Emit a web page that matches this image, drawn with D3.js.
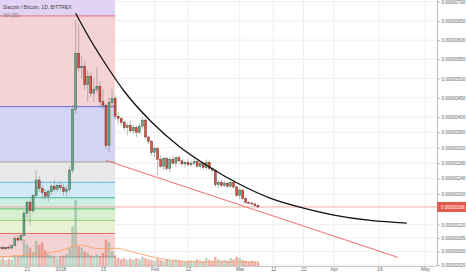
<!DOCTYPE html>
<html>
<head>
<meta charset="utf-8">
<script src="https://cdnjs.cloudflare.com/ajax/libs/d3/7.8.5/d3.min.js"></script>
<style>
body { margin: 0; background: #fff; }
svg { display: block; font-family: "Liberation Sans", Arial, sans-serif; }
</style>
</head>
<body>
<script>
// daily candles, SC/BTC in satoshi, from 2017-12-12
var firstDay = '2017-12-12';
var opens  = [58,60,57,61,59,66,84,80,92,150,178,156,196,236,214,204,194,206,220,212,222,216,206,212,262,420,566,528,532,484,506,462,472,480,440,430,326,438,448,402,396,386,372,378,364,372,360,376,392,348,336,308,318,290,272,292,266,290,280,294,286,278,282,276,280,284,272,280,268,282,266,262,224,230,222,228,220,230,218,196,210,188,178,176,174,170];
var highs  = [64,66,63,66,68,90,92,96,156,182,186,200,262,246,222,212,212,226,236,228,232,226,222,272,432,652,640,560,546,522,516,500,530,492,472,434,452,472,456,412,400,392,384,390,380,378,384,400,396,352,340,322,322,300,296,296,296,300,296,300,290,286,290,286,296,290,282,284,290,288,270,264,236,236,234,232,234,236,222,214,212,190,182,180,176,172];
var lows   = [54,55,54,56,57,63,76,77,88,138,118,150,190,205,186,186,180,198,204,204,208,196,194,204,254,408,518,498,470,440,452,440,462,430,420,318,308,426,394,380,378,364,352,360,356,348,356,370,344,330,300,296,248,268,262,262,256,274,270,280,272,268,272,270,274,268,266,264,262,262,256,218,216,218,218,216,216,214,192,186,184,174,172,170,166,162];
var closes = [60,57,61,59,66,84,80,92,150,178,156,196,236,214,204,194,206,220,212,222,216,206,212,262,420,566,528,532,484,506,462,472,480,440,430,326,438,448,402,396,386,372,378,364,372,360,376,392,348,336,308,318,290,272,292,266,290,280,294,286,278,282,276,280,284,272,280,268,282,266,262,224,230,222,228,220,230,218,196,210,188,178,176,174,170,166];
var volumes = [10,12,9,11,10,16,13,15,40,33,28,22,38,32,36,24,18,16,14,12,14,16,18,28,60,100,30,28,22,20,16,14,18,15,20,40,36,22,16,12,10,12,9,11,10,12,10,14,12,10,9,8,12,9,8,10,9,8,10,9,8,7,8,9,8,10,8,7,12,9,8,14,10,8,9,8,12,10,14,12,9,8,7,8,7,6];

// Vol (20) moving average, read at a few days
var volMaDays = ['2017-12-12','2018-01-01','2018-01-07','2018-01-14','2018-01-19','2018-01-25','2018-01-31','2018-02-06','2018-02-12','2018-02-20','2018-02-28','2018-03-07'];
var volMaValues = [14,23,32,26,27,21,14,9,6,6,6,6];

var priceTicks = [15,50,85,120,200,240,280,320,360,400,450,500,550,600,650,700];
var lastPrice = 166;

var dateTicks = ['2017-12-21','2018-01-01','2018-01-15','2018-02-01','2018-02-12','2018-03-01','2018-03-12','2018-03-22','2018-04-01','2018-04-16','2018-05-01'];
var dateLabels = ['21','2018','15','Feb','12','Mar','12','22','Apr','16','May'];

// fibonacci retracement levels (price), bottom to top
var fibLevels = [36,97,131,161,190,230,283,427,663,900];
var fibStart = '2017-12-01';
var fibEnd = '2018-01-19';
var fibLineColors = ['#9a9a9a','#e35d5d','#8dc96b','#58b85c','#2fb38f','#5aaee0','#9a9a9a','#5757e0','#e35d6a','#a05ad0'];
var fibFillColors = [null,'#f6d3d3','#e8f3d6','#d8efd2','#cdeee1','#d3eaf6','#e8e8e8','#d3d3f5','#f5d2d4','#e2d2f3'];

// hand drawn curve and trend line
var curveDays = ['2018-01-06','2018-01-11','2018-01-16','2018-01-22','2018-01-31','2018-02-09','2018-02-19','2018-03-01','2018-03-11','2018-03-22','2018-04-01','2018-04-13','2018-04-25'];
var curvePrices = [670,599,536,467,387,324,270,225,189,163,145,131,124];
var trendDays = ['2018-01-16','2018-04-22'];
var trendPrices = [287,35];

var W = 466, H = 275;
var plotRight = 437, plotBottom = 266;
var upColor = '#6ba583', downColor = '#d75442';

var parseDay = d3.utcParse('%Y-%m-%d');

function renderCanvas() {
	return d3.select('body')
		.append('svg')
		.attr('width', W)
		.attr('height', H);
}

function renderChart() {
	var svg = renderCanvas();

	var x = d3.scaleUtc()
		.domain([parseDay('2017-12-21'), parseDay('2018-05-01')])
		.range([27, 425]);
	var y = d3.scaleLinear()
		.domain([700, 15])
		.range([1.7, 265]);
	var yVol = d3.scaleLinear()
		.domain([0, 100])
		.range([plotBottom, 200]);

	var start = parseDay(firstDay);
	var candles = closes.map(function(c, i) {
		return {
			date: d3.utcDay.offset(start, i),
			o: opens[i], h: highs[i], l: lows[i], c: c, v: volumes[i]
		};
	});

	svg.append('defs').append('clipPath')
		.attr('id', 'plot')
		.append('rect')
		.attr('width', plotRight)
		.attr('height', plotBottom);

	var plot = svg.append('g').attr('clip-path', 'url(#plot)');

	// grid
	plot.selectAll('.vgrid')
		.data(dateTicks)
		.enter()
		.append('line')
		.attr('x1', function(d) { return x(parseDay(d)); })
		.attr('x2', function(d) { return x(parseDay(d)); })
		.attr('y1', 0)
		.attr('y2', plotBottom)
		.attr('stroke', '#ebebeb')
		.attr('stroke-width', 0.8);
	plot.selectAll('.hgrid')
		.data(priceTicks)
		.enter()
		.append('line')
		.attr('x1', 0)
		.attr('x2', plotRight)
		.attr('y1', function(d) { return y(d); })
		.attr('y2', function(d) { return y(d); })
		.attr('stroke', '#ebebeb')
		.attr('stroke-width', 0.8);

	// fib bands
	var fx0 = x(parseDay(fibStart)), fx1 = x(parseDay(fibEnd));
	fibLevels.forEach(function(p, i) {
		if (i > 0) {
			plot.append('rect')
				.attr('x', fx0)
				.attr('width', fx1 - fx0)
				.attr('y', y(p))
				.attr('height', y(fibLevels[i - 1]) - y(p))
				.attr('fill', fibFillColors[i]);
		}
	});
	fibLevels.forEach(function(p, i) {
		plot.append('line')
			.attr('x1', fx0)
			.attr('x2', fx1)
			.attr('y1', y(p))
			.attr('y2', y(p))
			.attr('stroke', fibLineColors[i])
			.attr('stroke-width', 0.9);
	});

	// volume
	plot.selectAll('.vol')
		.data(candles)
		.enter()
		.append('rect')
		.attr('x', function(d) { return x(d.date) - 1.3; })
		.attr('width', 2.6)
		.attr('y', function(d) { return yVol(d.v); })
		.attr('height', function(d) { return plotBottom - yVol(d.v); })
		.attr('fill', function(d) { return d.c >= d.o ? upColor : downColor; })
		.attr('opacity', 0.45);

	var volLine = d3.line()
		.x(function(d, i) { return x(parseDay(volMaDays[i])); })
		.y(function(d) { return yVol(d); })
		.curve(d3.curveMonotoneX);
	plot.append('path')
		.attr('d', volLine(volMaValues))
		.attr('fill', 'none')
		.attr('stroke', '#f7a06a')
		.attr('stroke-width', 0.9);

	// last price line
	plot.append('line')
		.attr('x1', 0)
		.attr('x2', plotRight)
		.attr('y1', y(lastPrice))
		.attr('y2', y(lastPrice))
		.attr('stroke', '#f2a09a')
		.attr('stroke-width', 0.9);

	// candles
	plot.selectAll('.wick')
		.data(candles)
		.enter()
		.append('line')
		.attr('x1', function(d) { return x(d.date); })
		.attr('x2', function(d) { return x(d.date); })
		.attr('y1', function(d) { return y(d.h); })
		.attr('y2', function(d) { return y(d.l); })
		.attr('stroke', '#8a8a8c')
		.attr('stroke-width', 0.6);
	plot.selectAll('.body')
		.data(candles)
		.enter()
		.append('rect')
		.attr('x', function(d) { return x(d.date) - 1; })
		.attr('width', 2)
		.attr('y', function(d) { return y(Math.max(d.o, d.c)); })
		.attr('height', function(d) { return Math.max(0.8, Math.abs(y(d.o) - y(d.c))); })
		.attr('fill', function(d) { return d.c >= d.o ? upColor : downColor; })
		.attr('stroke', function(d) { return d.c >= d.o ? '#225437' : '#5b1a13'; })
		.attr('stroke-width', 0.4);

	// drawings
	var curveLine = d3.line()
		.x(function(d, i) { return x(parseDay(curveDays[i])); })
		.y(function(d) { return y(d); })
		.curve(d3.curveMonotoneX);
	plot.append('path')
		.attr('d', curveLine(curvePrices))
		.attr('fill', 'none')
		.attr('stroke', '#111')
		.attr('stroke-width', 1.3);

	plot.append('line')
		.attr('x1', x(parseDay(trendDays[0])))
		.attr('y1', y(trendPrices[0]))
		.attr('x2', x(parseDay(trendDays[1])))
		.attr('y2', y(trendPrices[1]))
		.attr('stroke', '#f26d6d')
		.attr('stroke-width', 1);

	// axes
	var yAxis = d3.axisRight(y)
		.tickValues(priceTicks)
		.tickSize(3)
		.tickPadding(1.5)
		.tickFormat(function(d) { return (d / 1e8).toFixed(8); });
	var gy = svg.append('g')
		.attr('transform', 'translate(' + plotRight + ',0)')
		.call(yAxis);
	gy.select('.domain').attr('stroke', '#b8b8b8').attr('d', 'M0.5,0V' + plotBottom);
	gy.selectAll('.tick line').attr('stroke', '#b8b8b8');
	gy.selectAll('text').attr('fill', '#666').attr('font-size', 4.5).attr('font-family', null);

	var xAxis = d3.axisBottom(x)
		.tickValues(dateTicks.map(parseDay))
		.tickSize(0)
		.tickPadding(2)
		.tickFormat(function(d, i) { return dateLabels[i]; });
	var gx = svg.append('g')
		.attr('transform', 'translate(0,' + plotBottom + ')')
		.call(xAxis);
	gx.select('.domain').attr('stroke', '#c8c8c8').attr('d', 'M0,0.5H' + plotRight);
	gx.selectAll('text').attr('fill', '#666').attr('font-size', 4.8).attr('font-family', null);

	// last price badge
	svg.append('rect')
		.attr('x', plotRight)
		.attr('y', y(lastPrice) - 5)
		.attr('width', W - plotRight)
		.attr('height', 10)
		.attr('fill', '#e5584c');
	svg.append('text')
		.attr('x', plotRight + 4)
		.attr('y', y(lastPrice) + 1.6)
		.attr('fill', '#fff')
		.attr('font-size', 4.5)
		.text((lastPrice / 1e8).toFixed(8));

	// legend
	svg.append('text')
		.attr('x', 3)
		.attr('y', 9)
		.attr('fill', '#444')
		.attr('font-size', 5)
		.text('Siacoin / Bitcoin, 1D, BITTREX');
	svg.append('text')
		.attr('x', 3)
		.attr('y', 17)
		.attr('fill', '#777')
		.attr('font-size', 4.6)
		.text('Vol (20)');
}

renderChart();
</script>
</body>
</html>
